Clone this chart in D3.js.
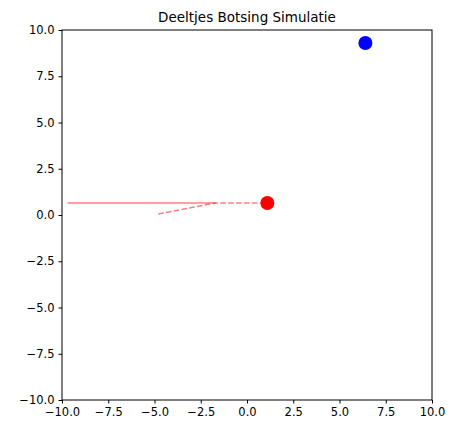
<!DOCTYPE html><html><head><script src="https://cdn.jsdelivr.net/npm/d3@7"></script>
<style>body{margin:0;background:#fff}text{font-family:"DejaVu Sans",sans-serif}</style></head><body><svg width="457" height="433"></svg>
<script>
const title="Deeltjes Botsing Simulatie";
const ticks=[-10,-7.5,-5,-2.5,0,2.5,5,7.5,10];
const trailX=[-4.8,-1.7,1.1];
const trailY=[0.05,0.65,0.65];
const solidX=[-9.7,-1.7];
const solidY=[0.65,0.65];
const particlesX=[1.1,6.4];
const particlesY=[0.65,9.3];
const colors=["red","blue"];
const svg=d3.select("svg");
const x=d3.scaleLinear().domain([-10,10]).range([62,432]);
const y=d3.scaleLinear().domain([-10,10]).range([400,30]);
const fmt=d=>d.toFixed(1).replace("-","\u2212");
const gx=svg.append("g").attr("transform","translate(0,400)").call(d3.axisBottom(x).tickValues(ticks).tickFormat(fmt).tickSizeOuter(0).tickSize(3.5).tickPadding(4));
const gy=svg.append("g").attr("transform","translate(62,0)").call(d3.axisLeft(y).tickValues(ticks).tickFormat(fmt).tickSizeOuter(0).tickSize(3.5).tickPadding(4));
svg.selectAll(".tick text").attr("fill","black").attr("font-size",11.5).style("font-family","DejaVu Sans");
svg.selectAll(".domain").remove();
svg.append("rect").attr("x",62).attr("y",30).attr("width",370).attr("height",370).attr("fill","none").attr("stroke","black");
const line=d3.line();
svg.append("path").attr("d",line(solidX.map((d,i)=>[x(d),y(solidY[i])])))
 .attr("fill","none").attr("stroke","red").attr("stroke-opacity",0.5).attr("stroke-width",1.5);
svg.append("path").attr("d",line(trailX.map((d,i)=>[x(d),y(trailY[i])])))
 .attr("fill","none").attr("stroke","red").attr("stroke-opacity",0.5).attr("stroke-width",1.5).attr("stroke-dasharray","5.5,2.4");
svg.selectAll("circle.p").data(particlesX).join("circle").attr("cx",d=>x(d)).attr("cy",(d,i)=>y(particlesY[i])).attr("r",7).attr("fill",(d,i)=>colors[i]);
svg.append("text").attr("x",247).attr("y",22).attr("text-anchor","middle").attr("font-size",13.5).text(title);
</script></body></html>
